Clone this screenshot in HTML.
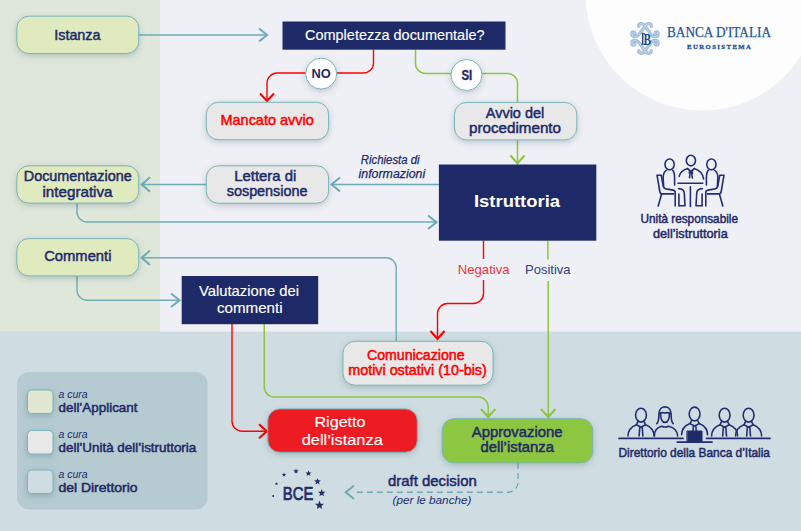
<!DOCTYPE html>
<html><head><meta charset="utf-8">
<style>
html,body{margin:0;padding:0;background:#eef0f5;}
body{width:801px;height:531px;overflow:hidden;font-family:"Liberation Sans",sans-serif;}
svg{display:block;}
text{font-family:"Liberation Sans",sans-serif;}
.n{fill:#1f2a68;}
.n.b{stroke:#1f2a68;stroke-width:.5;}.r.b{stroke:#ff0000;stroke-width:.5;}.w.b,.bb{font-weight:bold;stroke:none!important;}
.w{fill:#fff;stroke:#fff;stroke-width:.15;}
.r{fill:#ff0000;}
.t{stroke:#6eadb5;stroke-width:1.45;fill:none;}
.rl{stroke:#ff0000;stroke-width:1.4;fill:none;}
.gl{stroke:#8dc63f;stroke-width:1.5;fill:none;}
.ah{stroke-width:2.1!important;}
.ic{stroke:#232e72;stroke-width:1.6;fill:none;stroke-linecap:round;stroke-linejoin:round;}
</style></head><body>
<svg width="801" height="531" viewBox="0 0 801 531">
<defs>
<filter id="sh" x="-20%" y="-30%" width="140%" height="170%"><feDropShadow dx="0" dy="2" stdDeviation="3" flood-color="#3a5a60" flood-opacity="0.28"/></filter>
</defs>
<!-- backgrounds -->
<rect x="0" y="0" width="801" height="531" fill="#eef0f5"/>
<rect x="0" y="0" width="160" height="332" fill="#dfe7db"/>
<rect x="0" y="331.5" width="801" height="200" fill="#cfdde2"/>
<circle cx="702" cy="-6" r="116.500" fill="#fdfdfd"/>
<!-- legend -->
<rect x="17" y="372" width="190.600" height="137.500" rx="12" fill="#b5cbd1"/>

<!-- LINES -->
<g id="lines">
<path class="t" d="M138 35H267"/><path class="ah t" d="M259 28.5L267 35L259 41.5"/>
<path class="rl" d="M373.5 49.5V63a10 10 0 0 1-10 10H277a10 10 0 0 0-10 10V100"/><path class="ah rl" d="M260 93.5L267 101L274 93.5"/>
<path class="gl" d="M415.5 49.5V63.400a10 10 0 0 0 10 10H507.5a10 10 0 0 1 10 10V102"/>
<path class="gl" d="M517.5 140V163"/><path class="ah gl" d="M510.5 155.5L517.5 163.5L524.5 155.5"/>
<path class="t" d="M439 184.500H332"/><path class="ah t" d="M340 177.500L331.500 184.500L340 191.500"/>
<path class="t" d="M206 184.500H142"/><path class="ah t" d="M150 177.250L141.800 184.500L150 191.750"/>
<path class="t" d="M77 202.500V212a10 10 0 0 0 10 10H436"/><path class="ah t" d="M428 215.500L436.500 222.250L428 229"/>
<path class="rl" d="M483.500 240.500V259"/><path class="gl" d="M547.900 240.500V259.500"/>
<path class="rl" d="M483.500 280V293.500a10 10 0 0 1-10 10H447.500a10 10 0 0 0-10 10V338"/><path class="ah rl" d="M430.500 331L437.500 339L444.500 331"/>
<path class="gl" d="M548.200 281V416.500"/><path class="ah gl" d="M541 409L548.200 417L555.400 409"/>
<path class="t" d="M396.200 341V267.750a10 10 0 0 0-10-10H142"/><path class="ah t" d="M150 250.500L141.800 257.750L150 265"/>
<path class="t" d="M77 275.500V290.250a10 10 0 0 0 10 10H179"/><path class="ah t" d="M171 293.500L179.500 300.250L171 307"/>
<path class="rl" d="M232 324V421.250a10 10 0 0 0 10 10H266"/><path class="ah rl" d="M259 424.250L266.750 431.250L259 438.250"/>
<path class="gl" d="M264.250 324V387a10 10 0 0 0 10 10H478.200a10 10 0 0 1 10 10V416.500"/><path class="ah gl" d="M481 409L488.200 417L495.400 409"/>
<path class="t" style="stroke-width:1.3" stroke-dasharray="6 4" d="M518 463V482.250a10 10 0 0 1-10 10H356"/><path class="ah t" d="M354 485.500L345.750 492.250L354 499"/>
</g>

<!-- BOXES -->
<g id="boxes">
<rect x="16.800" y="16.200" width="121.900" height="37.300" rx="12" fill="#dfeabf" stroke="#7ab3ba" stroke-width="1" filter="url(#sh)"/>
<rect x="16.800" y="165.800" width="121.900" height="37.300" rx="12" fill="#dfeabf" stroke="#7ab3ba" stroke-width="1" filter="url(#sh)"/>
<rect x="16.800" y="238.600" width="121.900" height="37.300" rx="12" fill="#dfeabf" stroke="#7ab3ba" stroke-width="1" filter="url(#sh)"/>
<rect x="206.300" y="102.300" width="122.300" height="37.400" rx="12" fill="#e8e8e8" stroke="#7ab3ba" stroke-width="1" filter="url(#sh)"/>
<rect x="206.300" y="165.800" width="122.300" height="37.400" rx="12" fill="#e8e8e8" stroke="#7ab3ba" stroke-width="1" filter="url(#sh)"/>
<rect x="454.500" y="102.400" width="122.300" height="37.500" rx="12" fill="#e8e8e8" stroke="#7ab3ba" stroke-width="1" filter="url(#sh)"/>
<rect x="343" y="341.300" width="150" height="43.900" rx="12" fill="#e8e8e8" stroke="#7ab3ba" stroke-width="1" filter="url(#sh)"/>
<rect x="267.800" y="408.900" width="149.500" height="43.400" rx="12" fill="#ed1c24" stroke="#7ab3ba" stroke-width="1" filter="url(#sh)"/>
<rect x="442.200" y="418.700" width="150.600" height="44.200" rx="12" fill="#8dc63f" stroke="#7ab3ba" stroke-width="1" filter="url(#sh)"/>
<rect x="282.500" y="21.500" width="223" height="28.200" fill="#1e2a68"/>
<rect x="438.900" y="164.500" width="157.400" height="76.200" fill="#1e2a68"/>
<rect x="181.700" y="276" width="136.500" height="48.200" fill="#1e2a68"/>
<circle cx="321.2" cy="73.6" r="15.5" fill="#fff" stroke="#7ab3ba" stroke-width="1" filter="url(#sh)"/>
<circle cx="466.500" cy="75" r="15.5" fill="#fff" stroke="#7ab3ba" stroke-width="1" filter="url(#sh)"/>
<rect x="27.500" y="390" width="25.500" height="23.500" rx="4" fill="#dfe7d0" stroke="#7ab3ba" stroke-width="1" filter="url(#sh)"/>
<rect x="27.500" y="430.500" width="25.500" height="23.500" rx="4" fill="#e8e8e8" stroke="#7ab3ba" stroke-width="1" filter="url(#sh)"/>
<rect x="27.500" y="470" width="25.500" height="23.500" rx="4" fill="#cfdde2" stroke="#7ab3ba" stroke-width="1" filter="url(#sh)"/>
</g>


<!-- LOGO -->
<g id="logo">
<defs>
<path id="scr" d="M634.900 33.600C635 31.500 631.900 31.300 631.900 34.100C631.900 37.200 636.200 37.400 638.500 35L646 25C647.400 23 651.500 23.100 651.300 26.300"/>
</defs>
<g fill="none" stroke="#a3bddd" stroke-width="3.300" stroke-linecap="round">
<use href="#scr"/><use href="#scr" transform="translate(1290 0) scale(-1 1)"/>
<use href="#scr" transform="translate(0 77) scale(1 -1)"/><use href="#scr" transform="translate(1290 77) scale(-1 -1)"/>
</g>
<g fill="none" stroke="#ffffff" stroke-width="0.500" stroke-linecap="round" opacity=".7">
<use href="#scr"/><use href="#scr" transform="translate(1290 0) scale(-1 1)"/>
<use href="#scr" transform="translate(0 77) scale(1 -1)"/><use href="#scr" transform="translate(1290 77) scale(-1 -1)"/>
</g>
<text x="643.400" y="44.600" font-weight="bold" font-size="17.600" fill="#1a4a8c" textLength="7.600" lengthAdjust="spacingAndGlyphs" style="font-family:'Liberation Serif',serif">B</text>
<path d="M641.400 33.300H645M641.400 44.300H645" stroke="#1a4a8c" stroke-width="0.900" fill="none"/>
<path d="M642.700 33.300V44.300" stroke="#1a4a8c" stroke-width="1.500" fill="none"/>
<text x="667" y="37.300" font-size="14.600" fill="#1d5796" stroke="#1d5796" stroke-width=".25" textLength="104" lengthAdjust="spacingAndGlyphs" style="font-family:'Liberation Serif',serif">BANCA D'ITALIA</text>
<text x="687" y="49.100" font-size="6.800" font-weight="bold" fill="#1d5796" stroke="#1d5796" stroke-width=".3" textLength="64" lengthAdjust="spacing" style="font-family:'Liberation Serif',serif">EUROSISTEMA</text>
</g>


<!-- ICON TABLE -->
<g id="ictable" class="ic">
<defs><g id="seatp">
<ellipse cx="669.6" cy="164.4" rx="4.6" ry="5.4"/>
<path d="M666.4 170.4C663.600 172 663.100 175 663.200 178L663.600 186.400C663.700 188 664.500 188.600 666 188.900L673 190.100C674.600 190.400 675.200 191.200 675.200 192.600V206"/>
<path d="M672.8 170.4C674.600 172.400 674.600 175 674.600 178V185"/>
<path d="M657 175.200H661.200M657 175.200L659.900 192Q660.200 193.900 662 193.900H673.600M661.200 175.200L663.300 186.500M661.600 194L658.200 206"/>
<path d="M678.600 188.600C682.200 188.800 684.200 190.200 684.300 193.200L685 205.800H679.600M678.900 194V206"/>
</g></defs>
<use href="#seatp"/><use href="#seatp" transform="translate(1381 0) scale(-1 1)"/>
<ellipse cx="690.9" cy="160.600" rx="4.6" ry="5.300"/>
<path d="M679.200 176.400C680 172.400 683 170 687.600 168.600M694.200 168.600C699 170 702.600 172.800 703.600 179"/>
<path d="M687.600 168.600L690.900 171.400L694.200 168.600M689.200 170.800L692.600 173M692.600 170.800L689.200 173M690.100 173L689.500 177.600M691.700 173L692.300 178"/>
<path d="M678 183.300H702.800M690.400 186.800V206.600"/>
</g>


<!-- ICON DIRETTORIO -->
<g id="icdir" class="ic">
<defs><g id="man">
<ellipse cx="0" cy="415.200" rx="5.400" ry="6.900"/>
<path d="M-13 436C-13 429.500-9 426.600-4.600 424.800L-2.800 421.200M13 436C13 429.500 9 426.600 4.600 424.800L2.800 421.200"/>
<path d="M-4.600 424.800L0 427.200L4.600 424.800M-1.200 427L-1.900 436M1.200 427L1.900 436"/>
</g></defs>
<use href="#man" transform="translate(641 0)"/>
<use href="#man" transform="translate(694.600 -1.200)"/>
<use href="#man" transform="translate(724.600 0)"/>
<use href="#man" transform="translate(748.600 0)"/>
<path d="M660.600 413.200C660.400 418.600 662 422.400 665 422.400C668 422.400 669.600 418.600 669.400 413.200"/>
<path d="M659.400 413.700C661.500 412.500 663.500 412.300 665 413.100C666.500 412.300 668.500 412.500 670.600 413.700"/>
<path d="M656.800 423.600C659.400 421 658.600 416.500 659 413C659.800 404.800 670.200 404.800 671 413C671.400 416.500 670.600 421 673.200 423.600"/>
<path d="M654.400 436C654.400 430 657.500 427.200 661.500 426.200Q665 427.800 668.500 426.200C672.500 427.200 677.600 430 677.600 436"/>
<path d="M619 438.400H683M706.500 438.400H770" style="stroke-width:1.7"/>
<path d="M677.400 442.200H712" stroke-width="1.800"/>
<rect x="687.300" y="431" width="14.700" height="10.800" fill="#1f2a68" stroke-width="1"/>
</g>


<!-- BCE STARS -->
<g id="stars" fill="#1f2a68"><circle cx="273.200" cy="496" r="1"/><polygon points="276.50,482.00 276.94,483.19 278.21,483.24 277.22,484.03 277.56,485.26 276.50,484.56 275.44,485.26 275.78,484.03 274.79,483.24 276.06,483.19"/><polygon points="284.00,472.50 284.57,474.02 286.19,474.09 284.92,475.10 285.35,476.66 284.00,475.77 282.65,476.66 283.08,475.10 281.81,474.09 283.43,474.02"/><polygon points="296.00,468.50 296.69,470.35 298.66,470.43 297.12,471.66 297.65,473.57 296.00,472.48 294.35,473.57 294.88,471.66 293.34,470.43 295.31,470.35"/><polygon points="308.50,470.30 309.29,472.41 311.54,472.51 309.78,473.92 310.38,476.09 308.50,474.84 306.62,476.09 307.22,473.92 305.46,472.51 307.71,472.41"/><polygon points="317.50,477.90 318.39,480.28 320.92,480.39 318.94,481.97 319.62,484.41 317.50,483.01 315.38,484.41 316.06,481.97 314.08,480.39 316.61,480.28"/><polygon points="321.70,489.00 322.69,491.64 325.50,491.76 323.30,493.52 324.05,496.24 321.70,494.68 319.35,496.24 320.10,493.52 317.90,491.76 320.71,491.64"/><polygon points="319.50,500.60 320.66,503.70 323.97,503.85 321.38,505.91 322.26,509.10 319.50,507.27 316.74,509.10 317.62,505.91 315.03,503.85 318.34,503.70"/></g>

<!-- TEXT -->
<g id="texts" text-anchor="middle" font-size="15">
<text text-anchor="start" textLength="46.25" lengthAdjust="spacingAndGlyphs" id="t1" class="n b" x="54.25" y="40">Istanza</text>
<text text-anchor="start" textLength="179.5" lengthAdjust="spacingAndGlyphs" id="t2" class="w" x="305" y="40" font-size="15">Completezza documentale?</text>
<text text-anchor="start" textLength="19.25" lengthAdjust="spacingAndGlyphs" id="t3" class="n bb" x="311.5" y="77.7" font-size="13.5">NO</text>
<text text-anchor="start" textLength="10.75" lengthAdjust="spacingAndGlyphs" id="t4" class="n bb" x="461.5" y="79.6" font-size="13.8" style="stroke:#1f2a68!important;stroke-width:.4">SI</text>
<text text-anchor="start" textLength="93.25" lengthAdjust="spacingAndGlyphs" id="t5" class="r b" x="220.5" y="124.5">Mancato avvio</text>
<text text-anchor="start" textLength="58.5" lengthAdjust="spacingAndGlyphs" id="t6" class="n b" x="485.75" y="117.5">Avvio del</text>
<text text-anchor="start" textLength="92" lengthAdjust="spacingAndGlyphs" id="t7" class="n b" x="469" y="132.5">procedimento</text>
<text text-anchor="start" textLength="108" lengthAdjust="spacingAndGlyphs" id="t8" class="n b" x="23.75" y="181">Documentazione</text>
<text text-anchor="start" textLength="70" lengthAdjust="spacingAndGlyphs" id="t9" class="n b" x="42.5" y="196.75">integrativa</text>
<text text-anchor="start" textLength="62" lengthAdjust="spacingAndGlyphs" id="t10" class="n b" x="234.25" y="181">Lettera di</text>
<text text-anchor="start" textLength="80.75" lengthAdjust="spacingAndGlyphs" id="t11" class="n b" x="226.75" y="195.5">sospensione</text>
<text text-anchor="start" textLength="58.75" lengthAdjust="spacingAndGlyphs" id="t12" class="n" x="360.8" y="164" font-size="12" stroke="#1f2a68" stroke-width=".25" font-style="italic">Richiesta di</text>
<text text-anchor="start" textLength="66.75" lengthAdjust="spacingAndGlyphs" id="t13" class="n" x="358.5" y="177.8" font-size="12" stroke="#1f2a68" stroke-width=".25" font-style="italic">informazioni</text>
<text text-anchor="start" textLength="86" lengthAdjust="spacingAndGlyphs" id="t14" class="w b" x="474" y="206.75" font-size="17">Istruttoria</text>
<text text-anchor="start" textLength="67.25" lengthAdjust="spacingAndGlyphs" id="t15" class="n b" x="44.2" y="261">Commenti</text>
<text text-anchor="start" textLength="100" lengthAdjust="spacingAndGlyphs" id="t16" class="w" x="199" y="295.5" font-size="15">Valutazione dei</text>
<text text-anchor="start" textLength="65.5" lengthAdjust="spacingAndGlyphs" id="t17" class="w" x="217" y="313" font-size="15">commenti</text>
<text text-anchor="start" textLength="51.75" lengthAdjust="spacingAndGlyphs" id="t18" x="457.8" y="273.8" font-size="13.6" fill="#f2323c">Negativa</text>
<text text-anchor="start" textLength="45.5" lengthAdjust="spacingAndGlyphs" id="t19" x="525" y="273.8" font-size="13.6" fill="#323e7c">Positiva</text>
<text text-anchor="start" textLength="97.5" lengthAdjust="spacingAndGlyphs" id="t20" class="r b" x="367" y="359.75" font-size="14">Comunicazione</text>
<text text-anchor="start" textLength="138.5" lengthAdjust="spacingAndGlyphs" id="t21" class="r b" x="348.25" y="374.75" font-size="14">motivi ostativi (10-bis)</text>
<text text-anchor="start" textLength="51" lengthAdjust="spacingAndGlyphs" id="t22" class="w" x="314.5" y="426.75" font-size="15.500">Rigetto</text>
<text text-anchor="start" textLength="81" lengthAdjust="spacingAndGlyphs" id="t23" class="w" x="301.75" y="444.75" font-size="15.500">dell’istanza</text>
<text text-anchor="start" textLength="90.75" lengthAdjust="spacingAndGlyphs" id="t24" class="n b" x="471.75" y="437.25">Approvazione</text>
<text text-anchor="start" textLength="73.5" lengthAdjust="spacingAndGlyphs" id="t25" class="n b" x="480.5" y="451.75">dell’istanza</text>
<text text-anchor="start" textLength="88.75" lengthAdjust="spacingAndGlyphs" id="t26" class="n b" x="388" y="486" font-size="14.500">draft decision</text>
<text text-anchor="start" textLength="79" lengthAdjust="spacingAndGlyphs" id="t27" class="n" x="392.5" y="503.5" font-size="11" font-style="italic">(per le banche)</text>
<text text-anchor="start" textLength="30.5" lengthAdjust="spacingAndGlyphs" id="t28" class="n b" x="282.8" y="499.8" font-size="17.5" style="stroke-width:.7">BCE</text>
<text text-anchor="start" textLength="97.5" lengthAdjust="spacingAndGlyphs" id="t29" class="n b" x="640.5" y="222.700" font-size="13">Unità responsabile</text>
<text text-anchor="start" textLength="74.7" lengthAdjust="spacingAndGlyphs" id="t30" class="n b" x="653" y="238.400" font-size="13">dell’istruttoria</text>
<text text-anchor="start" textLength="151.5" lengthAdjust="spacingAndGlyphs" id="t31" class="n b" x="618.5" y="456.700" font-size="12.600">Direttorio della Banca d’Italia</text>
</g>
<g id="legtext" font-size="12.500">
<text class="n" x="58.500" y="398" font-size="10" font-style="italic" textLength="29" lengthAdjust="spacingAndGlyphs">a cura</text>
<text text-anchor="start" textLength="79" lengthAdjust="spacingAndGlyphs" id="l1" class="n b" x="58.5" y="411.75">dell’Applicant</text>
<text class="n" x="58.500" y="438" font-size="10" font-style="italic" textLength="29" lengthAdjust="spacingAndGlyphs">a cura</text>
<text text-anchor="start" textLength="137.75" lengthAdjust="spacingAndGlyphs" id="l2" class="n b" x="58.5" y="451.75">dell’Unità dell’istruttoria</text>
<text class="n" x="58.500" y="477.500" font-size="10" font-style="italic" textLength="29" lengthAdjust="spacingAndGlyphs">a cura</text>
<text text-anchor="start" textLength="79" lengthAdjust="spacingAndGlyphs" id="l3" class="n b" x="58.5" y="491.75">del Direttorio</text>
</g>
</svg>
</body></html>
